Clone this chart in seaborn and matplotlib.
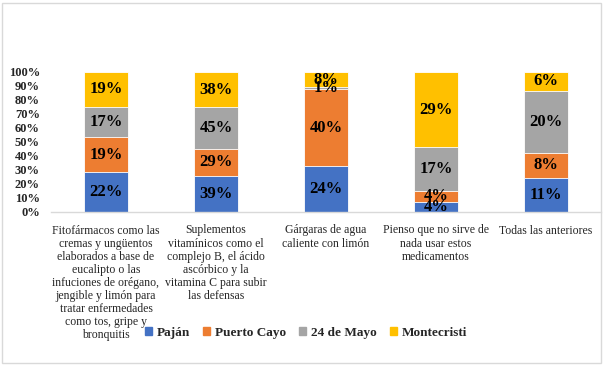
import numpy as np
import pandas as pd
import matplotlib
matplotlib.use("Agg")
import matplotlib.pyplot as plt
import seaborn as sns
from matplotlib.patches import Rectangle

categorias = [
    "Fitofármacos como las\ncremas y ungüentos\nelaborados a base de\neucalipto o las\ninfuciones de orégano,\njengible y limón para\ntratar enfermedades\ncomo tos, gripe y\nbronquitis",
    "Suplementos\nvitamínicos como el\ncomplejo B, el ácido\nascórbico y la\nvitamina C para subir\nlas defensas",
    "Gárgaras de agua\ncaliente con limón",
    "Pienso que no sirve de\nnada usar estos\nmedicamentos",
    "Todas las anteriores",
]
series = ["Paján", "Puerto Cayo", "24 de Mayo", "Montecristi"]
pajan = [22, 39, 24, 4, 11]
puerto_cayo = [19, 29, 40, 4, 8]
mayo24 = [17, 45, 1, 17, 20]
montecristi = [19, 38, 8, 29, 6]
colores = ["#4472C4", "#ED7D31", "#A5A5A5", "#FFC000"]

vals = np.array([pajan, puerto_cayo, mayo24, montecristi], dtype=float)
shares = vals / vals.sum(axis=0)          # 100% stacked like Excel
cum = np.cumsum(shares, axis=0)

sns.set_style("white")
plt.rcParams['font.family'] = ['Liberation Serif', 'DejaVu Serif']

fig = plt.figure(figsize=(6.08, 3.70), dpi=100)
ax = fig.add_axes([51/608, 1-212/370, 550/608, 140/370])

x = np.arange(len(categorias))
# draw cumulative heights from top series down so they stack
for i in range(len(series)-1, -1, -1):
    df = pd.DataFrame({"cat": x, "val": cum[i]})
    sns.barplot(data=df, x="cat", y="val", color=colores[i], width=0.4,
                saturation=1, ax=ax, edgecolor="white", linewidth=0.6,
                native_scale=True)

for i in range(len(series)):
    for j in range(len(categorias)):
        y = cum[i, j] - shares[i, j]/2
        ax.text(x[j], y, f"{int(vals[i, j])}%", ha="center", va="center",
                fontsize=12, fontweight="bold", color="black")

ax.set_xlim(-0.5, 4.5)
ax.set_ylim(0, 1)
ax.set_yticks(np.arange(0, 1.01, 0.1))
ax.set_yticklabels([f"{int(round(t*100))}%" for t in np.arange(0, 1.01, 0.1)],
                   fontsize=9, fontweight="bold")
ax.set_xticks(x)
ax.set_xticklabels(categorias, fontsize=8.5, va="top", linespacing=1.12)
ax.tick_params(axis="both", length=0)
ax.tick_params(axis="y", pad=8)
ax.tick_params(axis="x", pad=9)
ax.set_xlabel("")
ax.set_ylabel("")
for s in ["top", "right", "left"]:
    ax.spines[s].set_visible(False)
ax.spines["bottom"].set_color("#D9D9D9")
ax.spines["bottom"].set_linewidth(1)

handles = [Rectangle((0, 0), 1, 1, color=c) for c in colores]
fig.legend(handles, series, loc="center", bbox_to_anchor=(0.503, 1-333/370),
           ncol=4, frameon=False, handlelength=0.55, handleheight=0.55,
           handletextpad=0.35, columnspacing=1.0,
           prop={"size": 9.5, "weight": "bold"})

fig.patches.append(Rectangle((2/608, 1-363/370), 599/608, 360/370,
                             transform=fig.transFigure, fill=False,
                             edgecolor="#D9D9D9", linewidth=1))

fig.savefig("out.png", dpi=100)
